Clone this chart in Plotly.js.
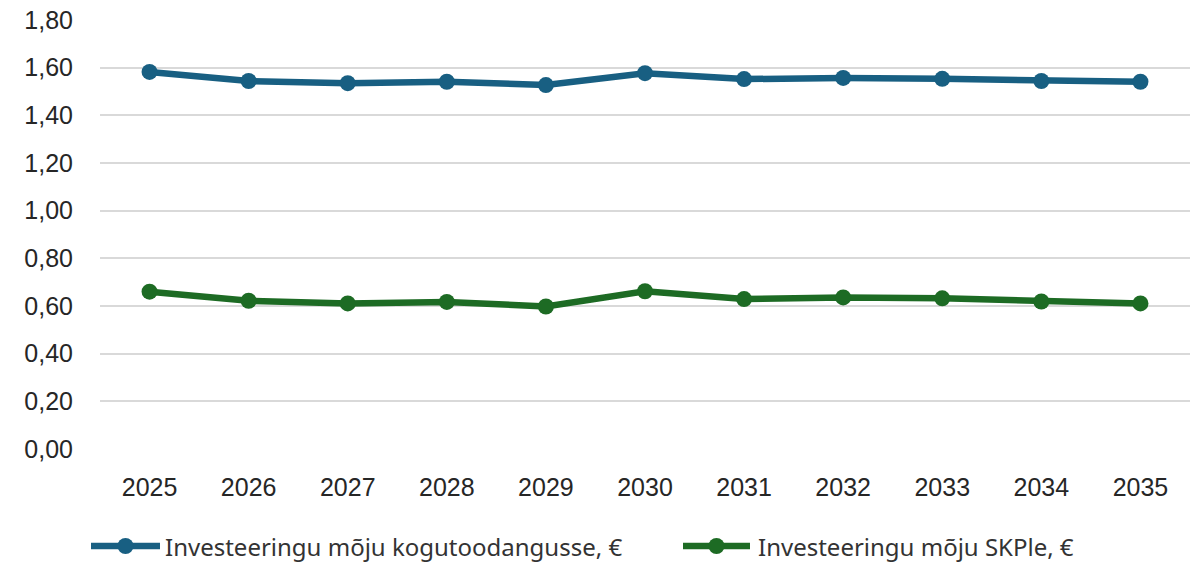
<!DOCTYPE html>
<html>
<head>
<meta charset="utf-8">
<script src="https://cdn.plot.ly/plotly-3.0.1.min.js"></script>
<style>
html,body{margin:0;padding:0;background:#fff;}
#chart{width:1193px;height:562px;}
</style>
</head>
<body>
<div id="chart"></div>
<script>
const years = ["2025","2026","2027","2028","2029","2030","2031","2032","2033","2034","2035"];
const kogutoodang = [1.582,1.544,1.535,1.541,1.527,1.577,1.552,1.557,1.553,1.544,1.541];
const skp = [0.660,0.622,0.611,0.617,0.598,0.662,0.629,0.636,0.632,0.619,0.611];
const seriesNames = ["Investeeringu mõju kogutoodangusse, €","Investeeringu mõju SKPle, €"];
const colors = ["#185f82","#1d6b24"];
const yTicks = [0,0.2,0.4,0.6,0.8,1.0,1.2,1.4,1.6,1.8];

const W = 1193, H = 562;
const m = {l:100, r:3, t:20, b:113};
const pw = W - m.l - m.r, ph = H - m.t - m.b;
const px2paperX = p => (p - m.l) / pw;
const px2paperY = p => (H - m.b - p) / ph;

const traces = [kogutoodang, skp].map((vals, i) => ({
  type: "scatter",
  mode: "lines+markers",
  x: years,
  y: vals,
  name: seriesNames[i],
  line: {color: colors[i], width: 6.5},
  marker: {color: colors[i], size: 16},
  showlegend: false,
  hoverinfo: "x+y"
}));

// custom legend (line + dot + text)
const legendItems = [
  {x0: 91, x1: 160, text: 163},
  {x0: 683, x1: 750, text: 756}
];
const legY = 546;
const shapes = [];
const annotations = [];
legendItems.forEach((it, i) => {
  shapes.push({type:"line", xref:"paper", yref:"paper",
    x0: px2paperX(it.x0), x1: px2paperX(it.x1), y0: px2paperY(legY), y1: px2paperY(legY),
    line:{color: colors[i], width: 6.5}});
  shapes.push({type:"circle", xref:"paper", yref:"paper", xsizemode:"pixel", ysizemode:"pixel",
    xanchor: px2paperX((it.x0 + it.x1)/2), yanchor: px2paperY(legY),
    x0:-8, x1:8, y0:-8, y1:8, fillcolor: colors[i], line:{color: colors[i], width: 0}});
  annotations.push({xref:"paper", yref:"paper", x: px2paperX(it.text), y: px2paperY(legY),
    xanchor:"left", yanchor:"middle", showarrow:false, text: seriesNames[i],
    font:{family:"Noto Sans, Roboto, sans-serif", size:24, color:"#333333"}});
});

const layout = {
  width: W, height: H,
  margin: m,
  paper_bgcolor: "#fff",
  plot_bgcolor: "#fff",
  separators: ", ",
  font: {family: "Liberation Sans, Arial, sans-serif", size: 25, color: "#262626"},
  xaxis: {
    type: "category",
    range: [-0.5, 10.5],
    showgrid: false,
    zeroline: false,
    showline: false,
    ticks: "",
    ticklabelstandoff: 21,
    tickfont: {size: 25, color: "#262626"},
    fixedrange: true
  },
  yaxis: {
    range: [0, 1.8],
    tickvals: yTicks,
    tickformat: ".2f",
    showgrid: true,
    gridcolor: "#d9d9d9",
    gridwidth: 2,
    zeroline: false,
    showline: false,
    ticks: "",
    ticklabelstandoff: 26,
    tickfont: {size: 25, color: "#262626"},
    fixedrange: true
  },
  shapes: shapes,
  annotations: annotations,
  showlegend: false
};

Plotly.newPlot("chart", traces, layout, {displayModeBar: false, staticPlot: true});
</script>
</body>
</html>
